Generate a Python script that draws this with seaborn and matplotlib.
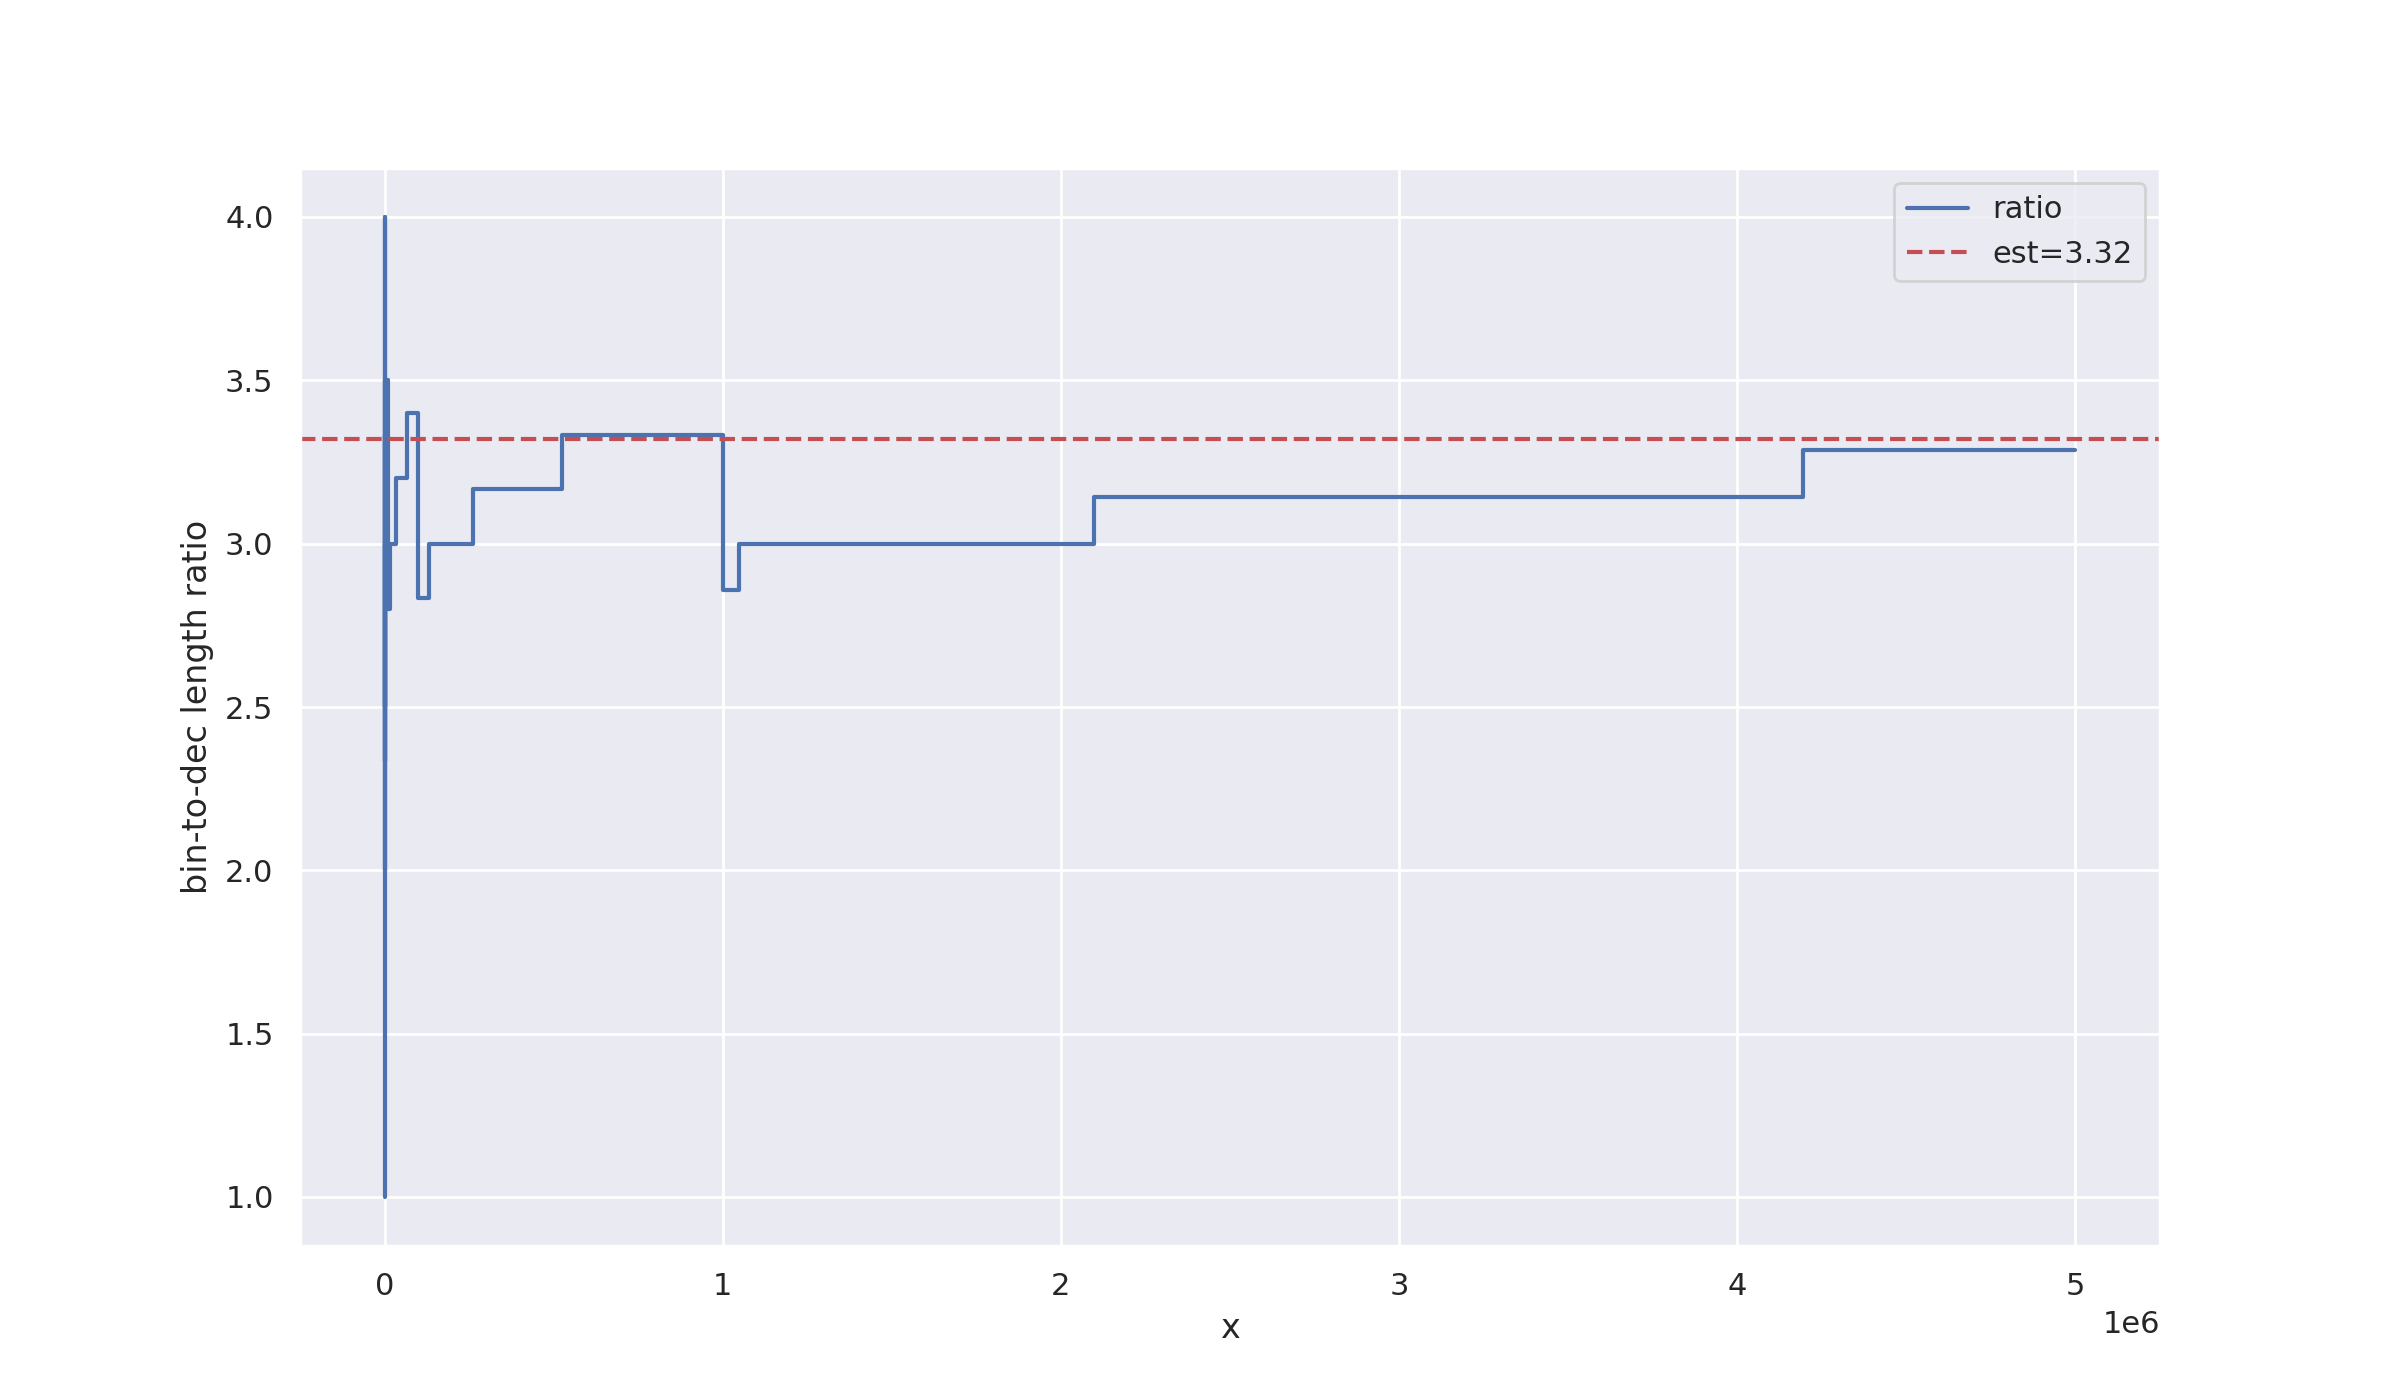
import numpy as np
import pandas as pd
import matplotlib
matplotlib.use("Agg")
import matplotlib.pyplot as plt
import seaborn as sns

# step breakpoints (x where the ratio changes) and the ratio from there on
x_steps = [1, 2, 4, 8, 10, 16, 32, 64, 100, 128, 256, 512, 1000, 1024,
           2048, 4096, 8192, 10000, 16384, 32768, 65536, 100000, 131072,
           262144, 524288, 1000000, 1048576, 2097152, 4194304, 5000000]
ratio_steps = [1.0, 2.0, 3.0, 4.0, 2.0, 2.5, 3.0, 3.5, 7/3, 8/3, 3.0, 10/3,
               2.5, 2.75, 3.0, 3.25, 3.5, 2.8, 3.0, 3.2, 3.4, 17/6, 3.0,
               19/6, 20/6, 20/7, 3.0, 22/7, 23/7, 23/7]
est = 3.32

sns.set_theme()

df = pd.DataFrame({"x": x_steps, "ratio": ratio_steps})

fig, ax = plt.subplots(figsize=(12, 7), dpi=200)
sns.lineplot(data=df, x="x", y="ratio", drawstyle="steps-post",
             color="b", label="ratio", ax=ax)
ax.axhline(est, color="r", linestyle="--", label="est=%.2f" % est)
ax.set_xlabel("x")
ax.set_ylabel("bin-to-dec length ratio")
ax.legend(loc="upper right")

fig.savefig("out.png")
